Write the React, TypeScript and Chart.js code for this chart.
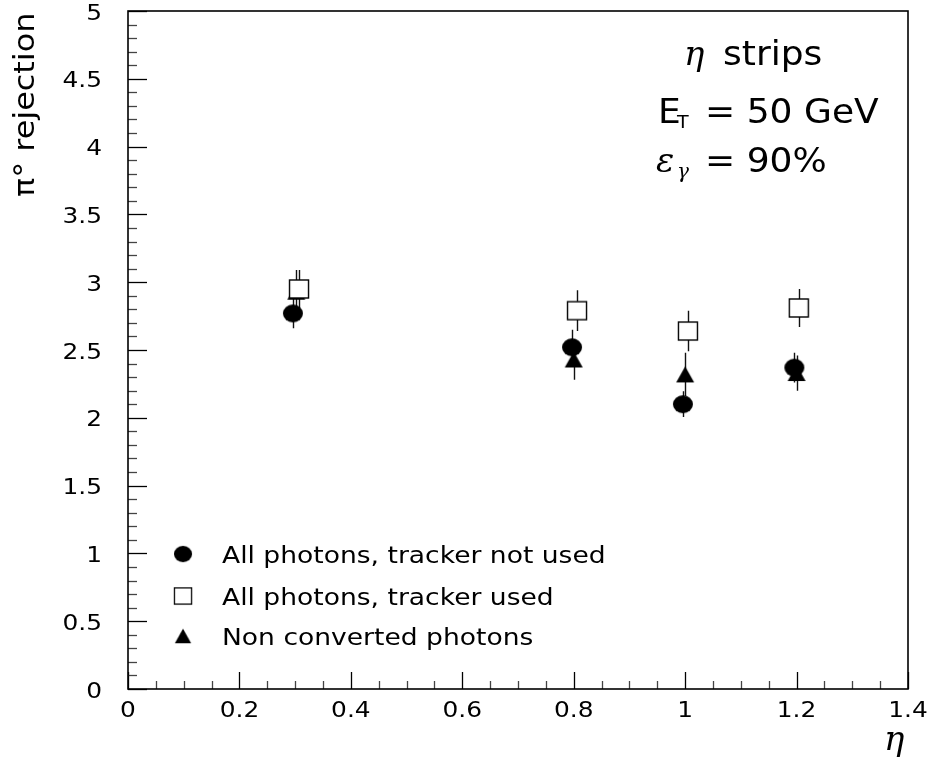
import React, { useEffect, useRef } from "react";
import { Chart, registerables } from "chart.js";

Chart.register(...registerables);

// Axis ranges and tick labels
const xMajorTicks = [0, 0.2, 0.4, 0.6, 0.8, 1.0, 1.2, 1.4];
const xTickLabels = ["0", "0.2", "0.4", "0.6", "0.8", "1", "1.2", "1.4"];
const yMajorTicks = [0, 0.5, 1, 1.5, 2, 2.5, 3, 3.5, 4, 4.5, 5];
const yTickLabels = ["0", "0.5", "1", "1.5", "2", "2.5", "3", "3.5", "4", "4.5", "5"];

// All photons, tracker not used
const etaNoTracker = [0.296, 0.797, 0.996, 1.196];
const rejNoTracker = [2.77, 2.52, 2.1, 2.37];
const errNoTracker = [0.11, 0.13, 0.095, 0.11];

// All photons, tracker used
const etaTracker = [0.307, 0.806, 1.005, 1.204];
const rejTracker = [2.95, 2.79, 2.64, 2.81];
const errTracker = [0.14, 0.15, 0.15, 0.14];

// Non converted photons
const etaUnconv = [0.302, 0.8, 1.0, 1.2];
const rejUnconv = [2.93, 2.43, 2.32, 2.33];
const errUnconv = [0.16, 0.15, 0.16, 0.13];

const legendLabels = [
  "All photons, tracker not used",
  "All photons, tracker used",
  "Non converted photons",
];

const SANS = '"DejaVu Sans"';
const STRETCH = 1.13;

function makeMarker(kind: "circle" | "square" | "triangle"): HTMLCanvasElement {
  const c = document.createElement("canvas");
  c.width = 22;
  c.height = 22;
  const g = c.getContext("2d")!;
  g.fillStyle = "#000";
  g.strokeStyle = "#000";
  if (kind === "circle") {
    g.beginPath();
    g.ellipse(11, 11, 10, 9, 0, 0, Math.PI * 2);
    g.fill();
  } else if (kind === "square") {
    g.lineWidth = 1.4;
    g.fillStyle = "#fff";
    g.fillRect(1.5, 2, 19, 18);
    g.strokeRect(1.5, 2, 19, 18);
  } else {
    g.beginPath();
    g.moveTo(11, 3);
    g.lineTo(20, 19);
    g.lineTo(2, 19);
    g.closePath();
    g.fill();
  }
  return c;
}

function text(
  ctx: CanvasRenderingContext2D,
  s: string,
  x: number,
  y: number,
  font: string,
  align: CanvasTextAlign = "left",
  sx = STRETCH
) {
  ctx.save();
  ctx.font = font;
  ctx.fillStyle = "#000";
  ctx.textBaseline = "alphabetic";
  ctx.translate(x, y);
  ctx.scale(sx, 1);
  ctx.textAlign = align;
  ctx.fillText(s, 0, 0);
  ctx.restore();
}

export default function App() {
  const ref = useRef<HTMLCanvasElement | null>(null);

  useEffect(() => {
    if (!ref.current) return;
    const circle = makeMarker("circle");
    const square = makeMarker("square");
    const triangle = makeMarker("triangle");
    const errors = [errNoTracker, errTracker, errUnconv];
    const hollowHalf = [0, 9, 0];

    const errorBars = {
      id: "errorBars",
      beforeDatasetsDraw(chart: any) {
        const { ctx, scales } = chart;
        const xs = scales.x;
        const ys = scales.y;
        ctx.save();
        ctx.strokeStyle = "#111";
        ctx.lineWidth = 1.4;
        chart.data.datasets.forEach((ds: any, di: number) => {
          ds.data.forEach((p: any, i: number) => {
            const e = errors[di][i];
            const px = Math.round(xs.getPixelForValue(p.x)) + 0.5;
            const yc = ys.getPixelForValue(p.y);
            const yt = ys.getPixelForValue(p.y + e);
            const yb = ys.getPixelForValue(p.y - e);
            const h = hollowHalf[di];
            ctx.beginPath();
            ctx.moveTo(px, yt);
            ctx.lineTo(px, yc - h);
            ctx.moveTo(px, yc + h);
            ctx.lineTo(px, yb);
            ctx.stroke();
          });
        });
        ctx.restore();
      },
    };

    const frame = {
      id: "frame",
      afterDraw(chart: any) {
        const { ctx, chartArea: a, scales } = chart;
        const xs = scales.x;
        const ys = scales.y;
        ctx.save();
        // ticks along the bottom edge
        ctx.strokeStyle = "#000";
        ctx.lineWidth = 1.3;
        for (let k = 0; k <= 28; k++) {
          const v = k * 0.05;
          const px = Math.round(xs.getPixelForValue(v)) + 0.5;
          const len = k % 4 === 0 ? 17 : 8;
          ctx.strokeStyle = k % 4 === 0 ? "#000" : "#444";
          ctx.beginPath();
          ctx.moveTo(px, a.bottom);
          ctx.lineTo(px, a.bottom - len);
          ctx.stroke();
        }
        // ticks along the left edge
        for (let k = 0; k <= 50; k++) {
          const v = k * 0.1;
          const py = Math.round(ys.getPixelForValue(v)) + 0.5;
          const len = k % 5 === 0 ? 19 : 9;
          ctx.strokeStyle = k % 5 === 0 ? "#000" : "#444";
          ctx.beginPath();
          ctx.moveTo(a.left, py);
          ctx.lineTo(a.left + len, py);
          ctx.stroke();
        }
        // frame
        ctx.strokeStyle = "#000";
        ctx.lineWidth = 1.6;
        ctx.strokeRect(a.left, a.top, a.right - a.left, a.bottom - a.top);
        ctx.restore();

        // tick labels
        xMajorTicks.forEach((v, i) => {
          text(ctx, xTickLabels[i], xs.getPixelForValue(v), a.bottom + 28, `22px ${SANS}`, "center");
        });
        yMajorTicks.forEach((v, i) => {
          text(ctx, yTickLabels[i], a.left - 26, ys.getPixelForValue(v) + 8.5, `22px ${SANS}`, "right");
        });

        // axis titles
        text(ctx, "\u03B7", 884, 750, `italic 34px "DejaVu Serif"`, "left", 1);
        ctx.save();
        ctx.translate(34, 197);
        ctx.rotate(-Math.PI / 2);
        text(ctx, "\u03C0\u00B0 rejection", 0, 0, `29px ${SANS}`, "left", 1.1);
        ctx.restore();

        // legend
        const markers = [circle, square, triangle];
        const rows = [555, 597, 637];
        rows.forEach((ry, i) => {
          const m = markers[i];
          ctx.drawImage(m, 184 - 11, ry - 11, 20, 20);
          text(ctx, legendLabels[i], 222, ry + 8, `23.5px ${SANS}`, "left");
        });

        // annotations
        text(ctx, "\u03B7", 684, 65, `italic 34px "DejaVu Serif"`, "left", 1);
        text(ctx, "strips", 723, 65, `34px ${SANS}`, "left", 1.06);
        text(ctx, "E", 658, 123, `34px ${SANS}`, "left", 1.06);
        text(ctx, "T", 677, 128, `18px ${SANS}`, "left", 1.06);
        text(ctx, "= 50 GeV", 705, 123, `34px ${SANS}`, "left", 1.06);
        text(ctx, "\u03B5", 656, 172, `italic 34px "DejaVu Serif"`, "left", 1);
        text(ctx, "\u03B3", 677, 178, `italic 20px "DejaVu Serif"`, "left", 1);
        text(ctx, "= 90%", 705, 172, `34px ${SANS}`, "left", 1.06);
      },
    };

    const mk = (xs: number[], ys: number[]) => xs.map((x, i) => ({ x, y: ys[i] }));

    const chart = new Chart(ref.current, {
      type: "scatter",
      data: {
        datasets: [
          { label: legendLabels[0], data: mk(etaNoTracker, rejNoTracker), pointStyle: circle as any, pointRadius: 10 },
          { label: legendLabels[1], data: mk(etaTracker, rejTracker), pointStyle: square as any, pointRadius: 10 },
          { label: legendLabels[2], data: mk(etaUnconv, rejUnconv), pointStyle: triangle as any, pointRadius: 10 },
        ],
      },
      options: {
        responsive: false,
        animation: false,
        devicePixelRatio: 1,
        layout: { padding: { left: 128, right: 24, top: 9, bottom: 73 } },
        scales: {
          x: { type: "linear", min: 0, max: 1.4, display: false },
          y: { type: "linear", min: 0, max: 5, display: false },
        },
        plugins: {
          legend: { display: false },
          tooltip: { enabled: false },
        },
      },
      plugins: [errorBars, frame],
    });
    return () => chart.destroy();
  }, []);

  return (
    <div style={{ position: "fixed", left: 0, top: 0, width: 932, height: 762, background: "#fff" }}>
      <canvas ref={ref} width={932} height={762} style={{ display: "block" }} />
    </div>
  );
}
